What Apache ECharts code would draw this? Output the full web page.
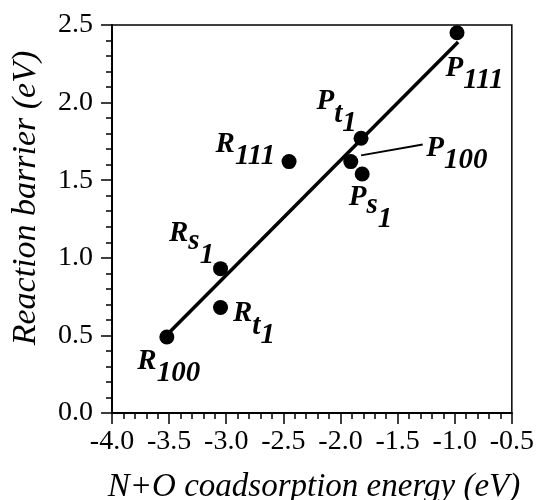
<!DOCTYPE html>
<html>
<head>
<meta charset="utf-8">
<script src="https://cdn.jsdelivr.net/npm/echarts@6/dist/echarts.min.js"></script>
<style>
  html, body { margin: 0; padding: 0; background: #fff; }
  #chart { width: 537px; height: 500px; }
</style>
</head>
<body>
<div id="chart"></div>
<script>
// surface sites
var siteNames = ['R100', 'Rt1', 'Rs1', 'R111', 'P100', 'Ps1', 'Pt1', 'P111'];
var siteLabels = ['{a|R}{b|100}', '{a|R}{t|t}{n|1}', '{a|R}{s|s}{n|1}', '{a|R}{b|111}',
                  '{a|P}{b|100}', '{a|P}{s|s}{n|1}', '{a|P}{t|t}{n|1}', '{a|P}{b|111}'];
var coadsEnergy = [-3.52, -3.05, -3.05, -2.45, -1.91, -1.81, -1.82, -0.98];
var barrier = [0.49, 0.68, 0.93, 1.62, 1.62, 1.54, 1.77, 2.45];

// linear fit line
var fitX = [-3.51, -0.97];
var fitY = [0.51, 2.39];

// pointer from P100 label
var leadX = [-1.82, -1.28];
var leadY = [1.66, 1.73];

// label placement (px, relative to symbol box)
var labelPos = [[-22, 17], [20, -1], [-44, -43], [-66, -25], [83, -21], [-6, 16], [-37, -44], [-4, 28]];

var serif = '"Liberation Serif", "Times New Roman", serif';

var chart = echarts.init(document.getElementById('chart'));

var scatterData = [];
for (var i = 0; i < siteNames.length; i++) {
    scatterData.push({
        name: siteNames[i],
        value: [coadsEnergy[i], barrier[i]],
        label: {
            position: labelPos[i],
            formatter: siteLabels[i]
        }
    });
}

// rich token, shifted down by k px (subscripts)
function sub(k) {
    return {
        fontFamily: serif, fontStyle: 'italic', fontWeight: 'bold', fontSize: 29,
        color: '#000', verticalAlign: 'top', height: 30 + 2 * k, lineHeight: 30
    };
}

var option = {
    animation: false,
    backgroundColor: '#fff',
    grid: {
        left: 112, right: 19, top: 25, bottom: 87,
        show: true, borderColor: '#000', borderWidth: 1.5
    },
    xAxis: {
        type: 'value',
        min: -4, max: -0.5, interval: 0.5,
        axisLine: { lineStyle: { color: '#000', width: 2 } },
        axisTick: { length: 11, lineStyle: { color: '#000', width: 1.5 } },
        minorTick: { show: true, splitNumber: 5, length: 6, lineStyle: { color: '#000', width: 1.5 } },
        splitLine: { show: false },
        axisLabel: {
            margin: 15, color: '#000', fontFamily: serif, fontSize: 28,
            formatter: function (v) { return v.toFixed(1); }
        }
    },
    yAxis: {
        type: 'value',
        min: 0, max: 2.5, interval: 0.5,
        axisLine: { lineStyle: { color: '#000', width: 2 } },
        axisTick: { length: 11, lineStyle: { color: '#000', width: 1.5 } },
        minorTick: { show: true, splitNumber: 5, length: 6, lineStyle: { color: '#000', width: 1.5 } },
        splitLine: { show: false },
        axisLabel: {
            margin: 19, color: '#000', fontFamily: serif, fontSize: 28,
            formatter: function (v) { return v.toFixed(1); }
        }
    },
    graphic: [{
        type: 'text', x: 314, y: 487,
        style: {
            text: 'N+O coadsorption energy (eV)', fill: '#000',
            font: 'italic 33px ' + serif, textAlign: 'center', textVerticalAlign: 'middle'
        }
    }, {
        type: 'text', x: 26, y: 198, rotation: Math.PI / 2,
        style: {
            text: 'Reaction barrier (eV)', fill: '#000',
            font: 'italic 34px ' + serif, textAlign: 'center', textVerticalAlign: 'middle'
        }
    }],
    series: [{
        name: 'fit',
        type: 'line',
        data: fitX.map(function (x, i) { return [x, fitY[i]]; }),
        symbol: 'none',
        lineStyle: { color: '#000', width: 3.5 },
        z: 2
    }, {
        name: 'lead',
        type: 'line',
        data: leadX.map(function (x, i) { return [x, leadY[i]]; }),
        symbol: 'none',
        lineStyle: { color: '#000', width: 1.8 },
        z: 2
    }, {
        name: 'sites',
        type: 'scatter',
        data: scatterData,
        symbolSize: 15,
        itemStyle: { color: '#000', opacity: 1 },
        label: {
            show: true,
            align: 'left',
            verticalAlign: 'top',
            rich: {
                a: sub(0),
                b: sub(12),
                s: sub(8),
                t: sub(13),
                n: sub(22)
            }
        },
        z: 3
    }]
};

chart.setOption(option);
</script>
</body>
</html>
